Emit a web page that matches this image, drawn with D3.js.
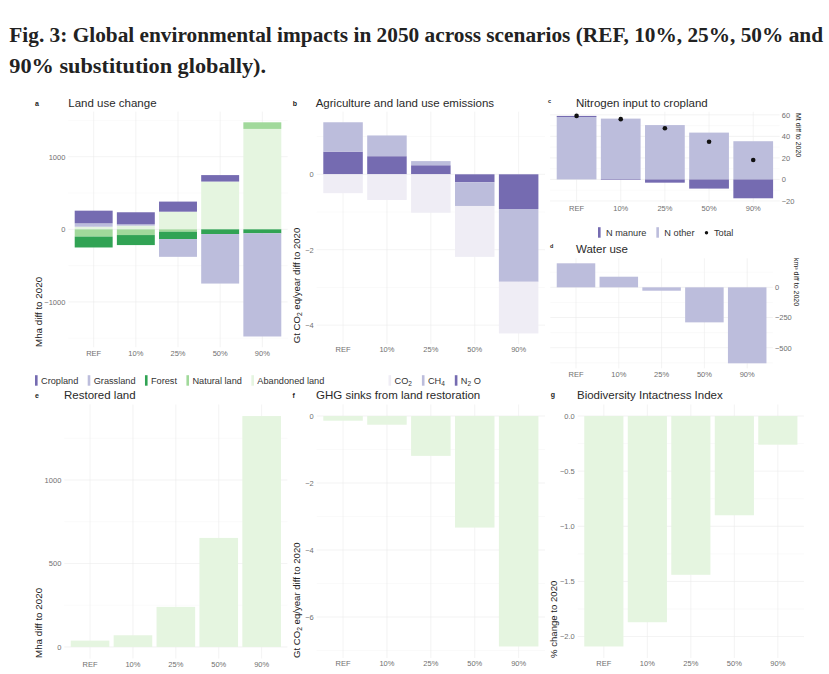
<!DOCTYPE html>
<html>
<head>
<meta charset="utf-8">
<script src="https://cdn.jsdelivr.net/npm/d3@7"></script>
<style>
body { margin: 0; background: #fff; }
svg text { font-family: "Liberation Sans", Arial, Helvetica, sans-serif; }
</style>
</head>
<body>
<svg id="fig" width="829" height="674"></svg>
<script>
var scenarios = ["REF", "10%", "25%", "50%", "90%"];

// a: land use change (Mha diff to 2020)
var landCropland  = [174, 166, 139, 89, 0];
var landGrassland = [47, 19, -245, -682, -1421];
var landForest    = [-150, -138, -101, -65, -55];
var landNatural   = [-100, -79, -33, 0, 91];
var landAbandoned = [36, 50, 243, 658, 1383];

// b: agriculture and land use emissions (Gt CO2 eq/year diff to 2020)
var emisCO2 = [-0.50, -0.68, -1.02, -1.35, -1.37];
var emisCH4 = [0.78, 0.55, 0.11, -0.63, -1.93];
var emisN2O = [0.60, 0.48, 0.24, -0.21, -0.92];

// c: nitrogen input to cropland (Mt diff to 2020)
var nManure = [1, -0.5, -3, -8.5, -17.5];
var nOther  = [58, 56.5, 50.5, 43.5, 35.5];
var nTotal  = [59, 56, 47.5, 35, 18];

// d: water use (km3 diff to 2020)
var waterUse = [199, 88, -28, -290, -629];

// e: restored land (Mha diff to 2020)
var restoredLand = [38, 70, 240, 653, 1383];

// f: GHG sinks from land restoration (Gt CO2 eq/year)
var ghgSinks = [-0.14, -0.26, -1.19, -3.33, -6.88];

// g: biodiversity intactness index (% change to 2020)
var biiChange = [-2.09, -1.87, -1.44, -0.90, -0.26];

var col = {
    purple: "#756bb1", lilac: "#bcbddc", palePurple: "#efedf5",
    green: "#31a354", midGreen: "#a1d99b", paleGreen: "#e5f5e0"
};

var svg = d3.select("#fig");
svg.append("rect").attr("width", 829).attr("height", 674).attr("fill", "#fff");

// figure caption, squeezed horizontally to the width it has in the figure
function caption(txt, x, y, width) {
    var t = svg.append("text").attr("x", 0).attr("y", 0)
        .style("font-family", '"Liberation Serif", serif').style("font-weight", "bold")
        .style("font-size", "22px").attr("fill", "#222").text(txt);
    var w = t.node().getComputedTextLength();
    t.attr("transform", "translate(" + x + "," + y + ") scale(" + (width / w) + ",1)");
}
caption("Fig. 3: Global environmental impacts in 2050 across scenarios (REF, 10%, 25%, 50% and", 9.3, 42.3, 814);
caption("90% substitution globally).", 9.3, 72.7, 257);

function rows(series) {
    return scenarios.map(function(s, i) {
        var r = { scenario: s };
        Object.keys(series).forEach(function(k) { r[k] = series[k][i]; });
        return r;
    });
}

// sets up scales, grid and axes for one panel (theme_minimal look)
function makePanel(cfg) {
    var x = d3.scaleBand().domain(scenarios).range([cfg.x0, cfg.x1])
        .paddingInner(0.1).paddingOuter(0.05);
    var step = x.step();
    var left = cfg.x0 - 0.1 * step, right = cfg.x1 + 0.1 * step;
    var lo = Math.min(0, d3.min(cfg.extent)), hi = Math.max(0, d3.max(cfg.extent));
    var pad = (hi - lo) * 0.05;
    var y = d3.scaleLinear().domain([lo - pad, hi + pad]).range([cfg.bottom, cfg.top]);
    var g = svg.append("g");

    var minor = cfg.minor.filter(function(v) { return v > lo - pad && v < hi + pad; });
    g.selectAll("line.minor").data(minor).enter().append("line").attr("class", "minor")
        .attr("x1", left).attr("x2", right)
        .attr("y1", function(d) { return y(d); }).attr("y2", function(d) { return y(d); })
        .attr("stroke", "#f5f5f5").attr("stroke-width", 0.5);
    g.selectAll("line.hmaj").data(cfg.ticks).enter().append("line").attr("class", "hmaj")
        .attr("x1", left).attr("x2", right)
        .attr("y1", function(d) { return y(d); }).attr("y2", function(d) { return y(d); })
        .attr("stroke", "#ebebeb").attr("stroke-width", 0.6);
    g.selectAll("line.vmaj").data(scenarios).enter().append("line").attr("class", "vmaj")
        .attr("x1", function(d) { return x(d) + x.bandwidth() / 2; })
        .attr("x2", function(d) { return x(d) + x.bandwidth() / 2; })
        .attr("y1", cfg.top).attr("y2", cfg.bottom)
        .attr("stroke", "#ebebeb").attr("stroke-width", 0.6);

    var yAxis = (cfg.side === "right" ? d3.axisRight(y) : d3.axisLeft(y))
        .tickValues(cfg.ticks).tickSize(0).tickPadding(cfg.side === "right" ? 2 : 3)
        .tickFormat(d3.format(cfg.format || "d"));
    var ya = g.append("g")
        .attr("transform", "translate(" + (cfg.side === "right" ? right : left) + ",0)")
        .call(yAxis);
    ya.select(".domain").remove();
    ya.selectAll("text").attr("fill", "#707070").style("font-size", "7.5px");

    var xa = g.append("g").attr("transform", "translate(0," + cfg.bottom + ")")
        .call(d3.axisBottom(x).tickSize(0).tickPadding(3));
    xa.select(".domain").remove();
    xa.selectAll("text").attr("fill", "#707070").style("font-size", "7.5px");

    return { g: g, x: x, y: y, left: left, right: right };
}

function stackedBars(p, stacked, colors) {
    p.g.selectAll("g.series").data(stacked).enter().append("g").attr("class", "series")
        .attr("fill", function(d) { return colors[d.key]; })
        .selectAll("rect").data(function(d) { return d; }).enter().append("rect")
        .attr("x", function(d) { return p.x(d.data.scenario); })
        .attr("width", p.x.bandwidth())
        .attr("y", function(d) { return p.y(d[1]); })
        .attr("height", function(d) { return p.y(d[0]) - p.y(d[1]); });
}

function simpleBars(p, values, color) {
    p.g.selectAll("rect.bar").data(values).enter().append("rect").attr("class", "bar")
        .attr("x", function(d, i) { return p.x(scenarios[i]); })
        .attr("width", p.x.bandwidth())
        .attr("y", function(d) { return p.y(Math.max(0, d)); })
        .attr("height", function(d) { return Math.abs(p.y(d) - p.y(0)); })
        .attr("fill", color);
}

function stackExtent(stacked) {
    return [d3.min(stacked, function(s) { return d3.min(s, function(d) { return d[0]; }); }),
            d3.max(stacked, function(s) { return d3.max(s, function(d) { return d[1]; }); })];
}

function panelTitle(letter, lx, ly, lsize, title, tx, ty) {
    svg.append("text").attr("x", lx).attr("y", ly).attr("fill", "#222")
        .style("font-weight", "bold").style("font-size", lsize + "px").text(letter);
    svg.append("text").attr("x", tx).attr("y", ty).attr("fill", "#2a2a2a")
        .style("font-size", "11.5px").text(title);
}

// parts: array of [text, isSubscript]
function richText(sel, parts, subSize) {
    parts.forEach(function(pt, i) {
        var t = sel.append("tspan").text(pt[0]);
        if (pt[1]) t.style("font-size", subSize + "px").attr("dy", 2);
        else if (i > 0 && parts[i - 1][1]) t.attr("dy", -2);
    });
}

function yTitle(x, y, rot, size, parts) {
    var t = svg.append("text")
        .attr("transform", "translate(" + x + "," + y + ") rotate(" + rot + ")")
        .attr("fill", "#222").style("font-size", size + "px");
    richText(t, parts, size * 0.7);
}

function legend(items, x0, yBase, keyGap, itemGap) {
    var cx = x0;
    items.forEach(function(it) {
        if (it.dot) {
            svg.append("circle").attr("cx", cx + 2).attr("cy", yBase - 3.2).attr("r", 1.7).attr("fill", "#111");
        } else {
            svg.append("rect").attr("x", cx).attr("y", yBase - 8.8).attr("width", 2.6).attr("height", 10.5)
                .attr("fill", it.color);
        }
        var t = svg.append("text").attr("x", cx + keyGap + (it.dot ? 1.5 : 0)).attr("y", yBase)
            .attr("fill", "#333").style("font-size", "9.2px");
        richText(t, it.parts, 6.5);
        cx += keyGap + (it.dot ? 1.5 : 0) + t.node().getComputedTextLength() + itemGap;
    });
}

// ---- a: Land use change
var landStack = d3.stack()
    .keys(["abandoned", "natural", "forest", "grassland", "cropland"])
    .offset(d3.stackOffsetDiverging)(rows({
        cropland: landCropland, grassland: landGrassland, forest: landForest,
        natural: landNatural, abandoned: landAbandoned
    }));
var pa = makePanel({ x0: 72.6, x1: 283.4, top: 111.6, bottom: 347.2,
    extent: stackExtent(landStack), ticks: [-1000, 0, 1000], minor: [-1500, -500, 500, 1500] });
stackedBars(pa, landStack, { cropland: col.purple, grassland: col.lilac, forest: col.green,
    natural: col.midGreen, abandoned: col.paleGreen });
panelTitle("a", 35, 105.7, 7, "Land use change", 68.3, 107.2);
yTitle(41.5, 347, -90, 9.8, [["Mha diff to 2020"]]);

// ---- b: Agriculture and land use emissions
var emisStack = d3.stack().keys(["n2o", "ch4", "co2"])
    .offset(d3.stackOffsetDiverging)(rows({ co2: emisCO2, ch4: emisCH4, n2o: emisN2O }));
var pb = makePanel({ x0: 321.1, x1: 540.6, top: 111.7, bottom: 344,
    extent: stackExtent(emisStack), ticks: [-4, -2, 0], minor: [-3, -1, 1] });
stackedBars(pb, emisStack, { co2: col.palePurple, ch4: col.lilac, n2o: col.purple });
panelTitle("b", 292.7, 106, 7, "Agriculture and land use emissions", 315.7, 107.2);
yTitle(299.5, 343.3, -90, 9.6, [["Gt CO"], ["2", true], [" eq/year diff to 2020"]]);

// ---- c: Nitrogen input to cropland
var nStack = d3.stack().keys(["other", "manure"])
    .offset(d3.stackOffsetDiverging)(rows({ manure: nManure, other: nOther }));
var pc = makePanel({ x0: 554.5, x1: 775.3, top: 111.8, bottom: 202.4,
    extent: stackExtent(nStack).concat(nTotal), ticks: [-20, 0, 20, 40, 60],
    minor: [-10, 10, 30, 50], side: "right" });
stackedBars(pc, nStack, { manure: col.purple, other: col.lilac });
pc.g.selectAll("circle.total").data(nTotal).enter().append("circle").attr("class", "total")
    .attr("cx", function(d, i) { return pc.x(scenarios[i]) + pc.x.bandwidth() / 2; })
    .attr("cy", function(d) { return pc.y(d); })
    .attr("r", 2.3).attr("fill", "#111");
panelTitle("c", 548, 102.5, 5.5, "Nitrogen input to cropland", 576, 106.7);
yTitle(795.8, 113, 90, 7, [["Mt diff to 2020"]]);
legend([
    { color: col.purple, parts: [["N manure"]] },
    { color: col.lilac, parts: [["N other"]] },
    { dot: true, parts: [["Total"]] }
], 598, 236, 8, 10);

// ---- d: Water use
var pd = makePanel({ x0: 554.6, x1: 768.6, top: 258.3, bottom: 368.3,
    extent: waterUse, ticks: [-500, -250, 0], minor: [-625, -375, -125, 125], side: "right" });
simpleBars(pd, waterUse, col.lilac);
panelTitle("d", 550, 247.5, 5.5, "Water use", 576, 252.7);
yTitle(794.2, 258, 90, 7, [["km³ diff to 2020"]]);

// ---- e: Restored land
var pe = makePanel({ x0: 68.6, x1: 283.1, top: 404.5, bottom: 658.5,
    extent: restoredLand, ticks: [0, 500, 1000], minor: [250, 750, 1250] });
simpleBars(pe, restoredLand, col.paleGreen);
panelTitle("e", 35, 397.5, 7, "Restored land", 64, 399.3);
yTitle(41.5, 658, -90, 9.8, [["Mha diff to 2020"]]);

// ---- f: GHG sinks from land restoration
var pf = makePanel({ x0: 321.1, x1: 540.6, top: 404.5, bottom: 658,
    extent: ghgSinks, ticks: [-6, -4, -2, 0], minor: [-7, -5, -3, -1] });
simpleBars(pf, ghgSinks, col.paleGreen);
panelTitle("f", 292.5, 397.5, 7, "GHG sinks from land restoration", 316, 399.3);
yTitle(299.5, 658, -90, 9.6, [["Gt CO"], ["2", true], [" eq/year diff to 2020"]]);

// ---- g: Biodiversity Intactness Index
var pg = makePanel({ x0: 582.1, x1: 799.6, top: 404.5, bottom: 658,
    extent: biiChange, ticks: [-2, -1.5, -1, -0.5, 0], minor: [-1.75, -1.25, -0.75, -0.25],
    format: ".1f" });
simpleBars(pg, biiChange, col.paleGreen);
panelTitle("g", 550.7, 396.5, 7, "Biodiversity Intactness Index", 577, 399.3);
yTitle(556.7, 658, -90, 9.6, [["% change to 2020"]]);

// legends under a and b
legend([
    { color: col.purple, parts: [["Cropland"]] },
    { color: col.lilac, parts: [["Grassland"]] },
    { color: col.green, parts: [["Forest"]] },
    { color: col.midGreen, parts: [["Natural land"]] },
    { color: col.paleGreen, parts: [["Abandoned land"]] }
], 35, 384, 6, 9.4);
legend([
    { color: col.palePurple, parts: [["CO"], ["2", true]] },
    { color: col.lilac, parts: [["CH"], ["4", true]] },
    { color: col.purple, parts: [["N"], ["2", true], [" O"]] }
], 388.5, 384, 6, 10);
</script>
</body>
</html>
